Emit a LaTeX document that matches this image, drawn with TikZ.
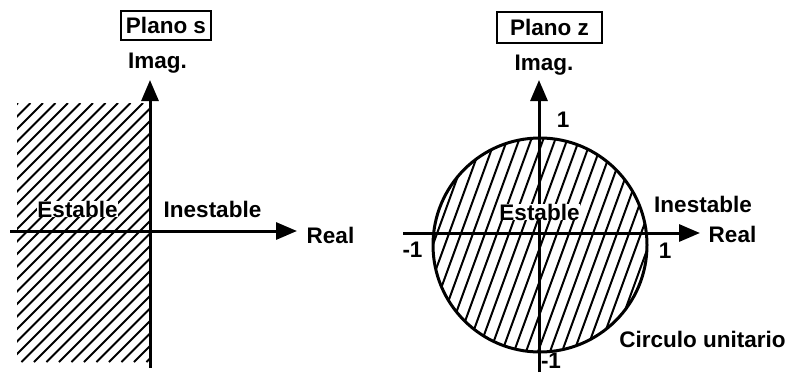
\documentclass[tikz,border=0pt]{standalone}
\usepackage{fontspec}
\setmainfont{Liberation Sans}
\usetikzlibrary{arrows.meta}
\begin{document}
\begin{tikzpicture}[x=1pt,y=-1pt,
  axis/.style={line width=3pt,-{Triangle[length=21pt,width=17pt]}},
  lbl/.style={font=\bfseries\fontsize{22.5}{26}\selectfont, inner sep=0pt, anchor=base},
  titlebox/.style={font=\bfseries\fontsize{22.5}{26}\selectfont, draw, line width=1.3pt, inner sep=0pt},
  hatchline/.style={line width=2pt},
  wbg/.style={fill=white}
]
\useasboundingbox (0,0) rectangle (792,372);
% ---------- Plano s ----------
\coordinate (sB) at (150,368);
\coordinate (sT) at (150,80);
\coordinate (sL) at (10,231);
\coordinate (sR) at (297,231);
\begin{scope}
  \clip (17,103) rectangle (150,362);
  \foreach \i in {0,...,33} {
    \draw[hatchline] ({121+12.5*\i-362},362) -- ({121+12.5*\i-103},103);
  }
\end{scope}
\draw[axis] (sB) -- (sT);
\draw[axis] (sL) -- (sR);
\node[titlebox, minimum width=90pt, minimum height=29pt] (ps) at (166,25.5) {Plano s};
\node[lbl] (simag) at (157.5,68) {Imag.};
\node[lbl, wbg] (sest) at (77.5,217) {Estable};
\node[lbl] (sinest) at (212.5,217) {Inestable};
\node[lbl] (sreal) at (330.5,243) {Real};
% ---------- Plano z ----------
\coordinate (zC) at (540,245);
\coordinate (zB) at (539,372);
\coordinate (zT) at (539,80);
\coordinate (zL) at (403,233);
\coordinate (zR) at (700,233);
\begin{scope}
  \clip (zC) circle (107);
  \foreach \i in {0,...,20} {
    \draw[hatchline] ({510+12*\i-0.364*360},360) -- ({510+12*\i-0.364*130},130);
  }
\end{scope}
\draw[line width=3pt] (zC) circle (107);
\draw[axis] (zB) -- (zT);
\draw[axis] (zL) -- (zR);
\node[titlebox, minimum width=105pt, minimum height=31pt] (pz) at (549.5,27.5) {Plano z\hspace{9pt}};
\node[lbl] (zimag) at (544,70) {Imag.};
\node[lbl] (zone) at (563,127) {1};
\node[lbl, wbg] (zest) at (539.5,220) {Estable};
\node[lbl] (zinest) at (703,212) {Inestable};
\node[lbl] (zreal) at (732.5,242) {Real};
\node[lbl] (zoner) at (665,258) {1};
\node[lbl] (zmonel) at (412.5,257) {-1};
\node[lbl] (zmoneb) at (551,368) {-1};
\node[lbl] (zcirc) at (702.5,347) {Circulo unitario};
\end{tikzpicture}
\end{document}
